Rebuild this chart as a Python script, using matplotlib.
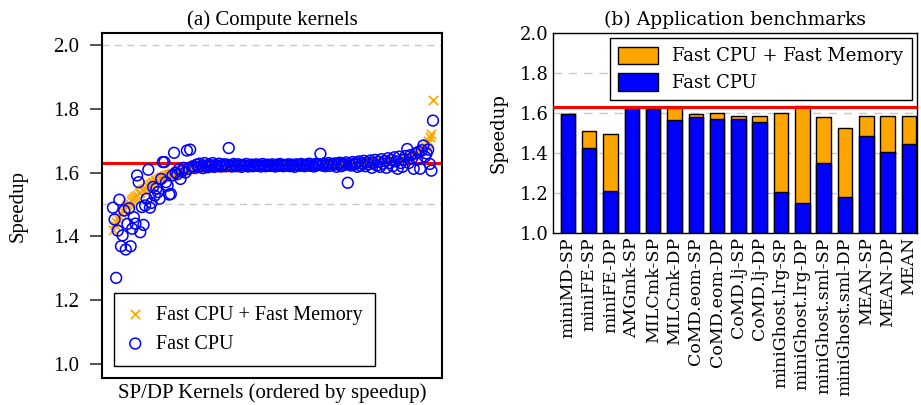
import matplotlib
matplotlib.use("Agg")
import matplotlib.pyplot as plt
import numpy as np

# ---------------- data: (a) compute kernels (ordered by speedup) ----------------
fast_cpu_mem = [
    1.420, 1.435, 1.445, 1.455, 1.465, 1.472, 1.480, 1.487, 1.494, 1.500,
    1.506, 1.511, 1.516, 1.521, 1.526, 1.531, 1.536, 1.540, 1.545, 1.549,
    1.553, 1.557, 1.561, 1.564, 1.567, 1.570, 1.573, 1.576, 1.579, 1.582,
    1.585, 1.587, 1.589, 1.591, 1.593, 1.595, 1.597, 1.599, 1.600, 1.602,
    1.603, 1.604, 1.605, 1.606, 1.607, 1.608, 1.609, 1.610, 1.611, 1.612,
    1.612, 1.613, 1.613, 1.614, 1.614, 1.615, 1.615, 1.615, 1.616, 1.616,
    1.616, 1.617, 1.617, 1.617, 1.617, 1.618, 1.618, 1.618, 1.618, 1.618,
    1.619, 1.619, 1.619, 1.619, 1.619, 1.619, 1.620, 1.620, 1.620, 1.620,
    1.620, 1.620, 1.620, 1.621, 1.621, 1.621, 1.621, 1.621, 1.621, 1.621,
    1.621, 1.622, 1.622, 1.622, 1.622, 1.622, 1.622, 1.622, 1.622, 1.623,
    1.623, 1.623, 1.623, 1.623, 1.623, 1.623, 1.623, 1.623, 1.624, 1.624,
    1.624, 1.624, 1.624, 1.624, 1.624, 1.624, 1.625, 1.625, 1.625, 1.625,
    1.625, 1.625, 1.625, 1.625, 1.626, 1.626, 1.626, 1.626, 1.626, 1.626,
    1.627, 1.627, 1.627, 1.627, 1.627, 1.627, 1.628, 1.628, 1.628, 1.628,
    1.628, 1.629, 1.629, 1.629, 1.629, 1.630, 1.630, 1.630, 1.630, 1.631,
    1.631, 1.631, 1.631, 1.632, 1.632, 1.632, 1.633, 1.633, 1.633, 1.634,
    1.634, 1.634, 1.635, 1.635, 1.635, 1.636, 1.636, 1.637, 1.637, 1.638,
    1.638, 1.639, 1.639, 1.640, 1.640, 1.641, 1.642, 1.642, 1.643, 1.644,
    1.645, 1.646, 1.647, 1.648, 1.650, 1.652, 1.654, 1.656, 1.658, 1.661,
    1.664, 1.667, 1.671, 1.676, 1.682, 1.690, 1.700, 1.710, 1.722, 1.826,
]
fast_cpu_k = [
    1.490, 1.453, 1.270, 1.418, 1.515, 1.369, 1.403, 1.481, 1.359, 1.439,
    1.488, 1.369, 1.424, 1.460, 1.440, 1.591, 1.570, 1.413, 1.492, 1.436,
    1.497, 1.518, 1.609, 1.490, 1.505, 1.555, 1.528, 1.550, 1.539, 1.518,
    1.580, 1.633, 1.633, 1.570, 1.559, 1.531, 1.533, 1.591, 1.662, 1.600,
    1.595, 1.610, 1.580, 1.605, 1.615, 1.600, 1.669, 1.612, 1.672, 1.618,
    1.620, 1.615, 1.625, 1.618, 1.628, 1.620, 1.614, 1.630, 1.622, 1.617,
    1.625, 1.620, 1.630, 1.618, 1.624, 1.621, 1.628, 1.619, 1.623, 1.626,
    1.620, 1.625, 1.677, 1.622, 1.619, 1.627, 1.624, 1.620, 1.626, 1.622,
    1.618, 1.624, 1.621, 1.627, 1.619, 1.623, 1.625, 1.620, 1.622, 1.626,
    1.621, 1.624, 1.619, 1.627, 1.622, 1.620, 1.625, 1.623, 1.621, 1.626,
    1.622, 1.619, 1.625, 1.621, 1.627, 1.623, 1.620, 1.624, 1.622, 1.626,
    1.620, 1.625, 1.622, 1.618, 1.626, 1.623, 1.621, 1.627, 1.624, 1.620,
    1.625, 1.622, 1.628, 1.621, 1.624, 1.619, 1.627, 1.623, 1.626, 1.659,
    1.622, 1.628, 1.620, 1.625, 1.630, 1.621, 1.627, 1.624, 1.629, 1.618,
    1.626, 1.631, 1.620, 1.628, 1.624, 1.632, 1.568, 1.627, 1.622, 1.633,
    1.625, 1.630, 1.618, 1.635, 1.622, 1.628, 1.637, 1.620, 1.632, 1.626,
    1.638, 1.615, 1.630, 1.640, 1.622, 1.634, 1.618, 1.642, 1.628, 1.636,
    1.615, 1.645, 1.630, 1.640, 1.620, 1.648, 1.635, 1.612, 1.650, 1.630,
    1.618, 1.640, 1.652, 1.674, 1.630, 1.655, 1.645, 1.612, 1.660, 1.640,
    1.665, 1.612, 1.670, 1.685, 1.650, 1.660, 1.672, 1.627, 1.606, 1.763,
]
ideal_speedup = 1.63

# ---------------- data: (b) application benchmarks ----------------
benchmarks = ["miniMD-SP", "miniFE-SP", "miniFE-DP", "AMGmk-SP", "MILCmk-SP",
              "MILCmk-DP", "CoMD.eom-SP", "CoMD.eom-DP", "CoMD.lj-SP", "CoMD.lj-DP",
              "miniGhost.lrg-SP", "miniGhost.lrg-DP", "miniGhost.sml-SP",
              "miniGhost.sml-DP", "MEAN-SP", "MEAN-DP", "MEAN"]
app_fast_cpu = [1.593, 1.423, 1.210, 1.632, 1.620, 1.563, 1.580, 1.568, 1.572,
                1.553, 1.203, 1.148, 1.348, 1.182, 1.485, 1.403, 1.445]
app_fast_both = [1.593, 1.510, 1.497, 1.632, 1.627, 1.627, 1.593, 1.598, 1.587,
                 1.583, 1.598, 1.633, 1.578, 1.525, 1.585, 1.585, 1.585]

ORANGE = "#FFA500"
BLUE = "#0000FF"

W, H = 921, 405
fig = plt.figure(figsize=(W / 100, H / 100), dpi=100)

# ---------------- panel (a) ----------------
times = ["Liberation Serif", "DejaVu Serif"]
axa = fig.add_axes([102 / W, 1 - 378 / H, 340 / W, 345 / H])
idx = np.arange(len(fast_cpu_mem))
axa.axhline(2.0, color="#c8c8c8", lw=1.0, ls=(0, (5, 4)), zorder=1)
axa.axhline(1.5, color="#c8c8c8", lw=1.0, ls=(0, (5, 4)), zorder=1)
axa.axhline(ideal_speedup, color="red", lw=2.2, zorder=2)
axa.scatter(idx, fast_cpu_mem, marker="x", s=45, color=ORANGE, linewidths=1.2,
            label="Fast CPU + Fast Memory", zorder=3)
axa.scatter(idx, fast_cpu_k, marker="o", s=60, facecolors="none", edgecolors=BLUE,
            linewidths=1.1, label="Fast CPU", zorder=4)
axa.set_xlim(-6.8, len(idx) - 1 + 5.6)
axa.set_ylim(0.956, 2.0376)
axa.set_yticks([1.0, 1.2, 1.4, 1.6, 1.8, 2.0])
axa.set_yticklabels(["1.0", "1.2", "1.4", "1.6", "1.8", "2.0"], family=times, fontsize=15)
axa.set_xticks([])
axa.tick_params(axis="y", direction="out", length=8.5, width=1.2, colors="#333333",
                labelcolor="black", pad=8)
for s in axa.spines.values():
    s.set_linewidth(1.5)
axa.set_ylabel("Speedup", family=times, fontsize=15, labelpad=18)
axa.set_xlabel("SP/DP Kernels (ordered by speedup)", family=times, fontsize=15, labelpad=4)
axa.set_title("(a) Compute kernels", family=times, fontsize=15, pad=6)
leg = axa.legend(loc="lower left", prop={"family": times, "size": 14.5}, fancybox=False,
                 edgecolor="black", framealpha=1, borderaxespad=0.6, handletextpad=0.6,
                 handlelength=0.9, borderpad=0.6, labelspacing=0.5)
leg.get_frame().set_linewidth(1.0)

# ---------------- panel (b) ----------------
dv = ["DejaVu Serif"]
axb = fig.add_axes([553 / W, 1 - 233 / H, 364 / W, 200 / H])
pos = np.arange(len(benchmarks))
for yv in [1.2, 1.4, 1.6, 1.8]:
    axb.axhline(yv, color="#c8c8c8", lw=1.0, ls=(0, (6, 5)), zorder=0)
tot = np.array(app_fast_both) - 1.0
cpu = np.array(app_fast_cpu) - 1.0
axb.bar(pos, tot, bottom=1.0, width=0.68, color=ORANGE, edgecolor="black", lw=1.0,
        label="Fast CPU + Fast Memory", zorder=2)
axb.bar(pos, cpu, bottom=1.0, width=0.68, color=BLUE, edgecolor="black", lw=1.0,
        label="Fast CPU", zorder=2)
axb.axhline(ideal_speedup, color="red", lw=2.2, zorder=3)
axb.set_xlim(-0.7, len(benchmarks) - 1 + 0.38)
axb.set_ylim(1.0, 2.0)
axb.set_yticks([1.0, 1.2, 1.4, 1.6, 1.8, 2.0])
axb.set_yticklabels(["1.0", "1.2", "1.4", "1.6", "1.8", "2.0"], family=dv, fontsize=13)
axb.set_xticks(pos)
axb.set_xticklabels(benchmarks, rotation=90, family=dv, fontsize=12.5)
axb.tick_params(length=0, pad=3)
for s in axb.spines.values():
    s.set_linewidth(1.0)
axb.set_ylabel("Speedup", family=dv, fontsize=13, labelpad=9)
axb.set_title("(b) Application benchmarks", family=dv, fontsize=13.5, pad=6)
legb = axb.legend(loc="upper right", prop={"family": "DejaVu Serif", "size": 13},
                  fancybox=False, edgecolor="black", framealpha=1, borderaxespad=0.3,
                  handlelength=2.2, handleheight=1.1, handletextpad=0.8, labelspacing=0.45,
                  borderpad=0.45)
legb.get_frame().set_linewidth(1.0)
legb.set_zorder(5)

fig.savefig("out.png", dpi=100)
